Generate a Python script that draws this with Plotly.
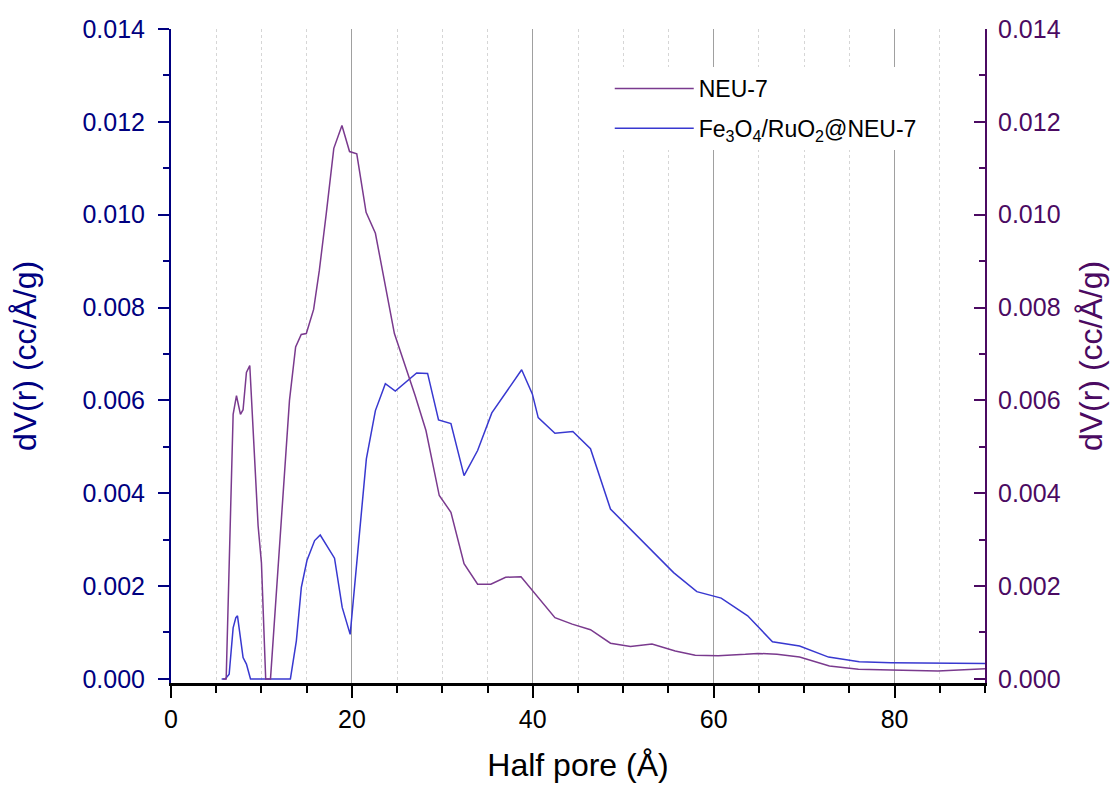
import plotly.graph_objects as go

# Half pore (Å) and dV(r) (cc/Å/g)
neu7_x = [5.75, 6.1, 6.87, 7.24, 7.68, 7.97, 8.34, 8.71, 9.63, 10.0, 10.47, 11.0,
          13.1, 13.78, 14.4, 14.96, 15.77, 16.4, 17.17, 18.0, 18.9, 19.74, 20.54,
          21.57, 22.6, 24.7, 27.0, 28.19, 29.66, 30.95, 32.4, 33.9, 35.36, 37.0,
          38.7, 39.8, 42.45, 44.36, 46.38, 48.59, 50.8, 53.18, 55.75, 57.96, 60.5,
          63.5, 64.9, 67.0, 69.5, 72.8, 76.0, 79.6, 84.8, 90.0]
neu7_y = [0.0, 0.0, 0.0057, 0.0061, 0.0057, 0.0058, 0.0066, 0.00675, 0.0033, 0.0025,
          0.0, 0.0, 0.0060, 0.00715, 0.00742, 0.00744, 0.00796, 0.0088, 0.01003,
          0.01143, 0.01192, 0.01136, 0.01131, 0.01005, 0.0096, 0.00744, 0.0061,
          0.00535, 0.00395, 0.00359, 0.00248, 0.00204, 0.00204, 0.00219, 0.0022,
          0.00194, 0.00132, 0.00118, 0.00106, 0.00077, 0.0007, 0.00075, 0.0006,
          0.00051, 0.0005, 0.00053, 0.00055, 0.00053, 0.00047, 0.00028, 0.00021,
          0.00019, 0.00017, 0.00022]

fe_x = [5.6, 6.0, 6.43, 6.87, 7.17, 7.35, 7.97, 8.34, 8.79, 13.2, 13.86, 14.41,
        15.03, 15.88, 16.5, 18.08, 18.93, 19.81, 21.6, 22.6, 23.7, 24.8, 27.16,
        28.37, 29.58, 30.95, 32.4, 33.9, 35.47, 38.77, 39.95, 40.6, 42.45, 44.43,
        46.38, 48.59, 55.57, 58.14, 60.83, 63.76, 66.5, 69.5, 72.7, 76.1, 79.6,
        84.8, 90.0]
fe_y = [0.0, 0.0, 0.0001, 0.0011, 0.00132, 0.00136, 0.00046, 0.00032, 0.0, 0.0,
        0.00082, 0.00197, 0.00255, 0.00298, 0.0031, 0.0026, 0.00154, 0.00096,
        0.00474, 0.00578, 0.00636, 0.0062, 0.00659, 0.00658, 0.00558, 0.0055,
        0.00438, 0.00492, 0.00573, 0.00666, 0.00614, 0.00563, 0.00529, 0.00533,
        0.00496, 0.00366, 0.00229, 0.00188, 0.00174, 0.00136, 0.0008, 0.00071,
        0.00047, 0.00037, 0.00035, 0.00034, 0.00033]

NAVY = "#000080"
PURPLE = "#4B0A62"
NEU_COLOR = "#7A3A8E"
FE_COLOR = "#3838D0"
FONT = "Liberation Sans, Arial, sans-serif"

fig = go.Figure()
fig.add_trace(go.Scatter(x=neu7_x, y=neu7_y, mode="lines", name="NEU-7",
                         line=dict(color=NEU_COLOR, width=1.5), yaxis="y2",
                         legendgroup="a"))
fig.add_trace(go.Scatter(x=fe_x, y=fe_y, mode="lines",
                         name="Fe<sub>3</sub>O<sub>4</sub>/RuO<sub>2</sub>@NEU-7",
                         line=dict(color=FE_COLOR, width=1.5), yaxis="y",
                         legendgroup="b"))

yrange = [-0.000088, 0.014]

fig.update_layout(
    width=1118, height=790,
    margin=dict(l=171, r=133, t=29, b=107),
    paper_bgcolor="white", plot_bgcolor="white",
    font=dict(family=FONT, color="black"),
    showlegend=True,
    legend=dict(x=0.539, y=0.942, xanchor="left", yanchor="top",
                bgcolor="white", borderwidth=0, font=dict(size=23, family=FONT),
                itemwidth=79, tracegroupgap=7, traceorder="grouped"),
    xaxis=dict(range=[0, 90], tick0=0, dtick=20, showline=True, linecolor="black",
               linewidth=3, ticks="outside", ticklen=12, tickwidth=2, tickcolor="black",
               tickfont=dict(size=25, family=FONT), ticklabelstandoff=0,
               showgrid=True, gridcolor="#a0a0a0", gridwidth=1, zeroline=False,
               minor=dict(dtick=5, tick0=0, ticks="outside", ticklen=7, tickwidth=2,
                          tickcolor="black", showgrid=True, gridcolor="#d6d6d6",
                          griddash="3px,3px", gridwidth=1),
               title=dict(text="Half pore (Å)", font=dict(size=32, family=FONT),
                          standoff=22)),
    yaxis=dict(range=yrange, tick0=0, dtick=0.002, tickformat=".3f", showgrid=False,
               zeroline=False, showline=True, linecolor=NAVY, linewidth=2,
               ticks="outside", ticklen=11, tickwidth=2, tickcolor=NAVY,
               tickfont=dict(size=25, color=NAVY, family=FONT), ticklabelstandoff=8,
               minor=dict(dtick=0.001, tick0=0, ticks="outside", ticklen=6,
                          tickwidth=2, tickcolor=NAVY),
               title=dict(text="dV(r) (cc/Å/g)", font=dict(size=32, color=NAVY, family=FONT),
                          standoff=36)),
    yaxis2=dict(range=yrange, tick0=0, dtick=0.002, tickformat=".3f", showgrid=False,
                zeroline=False, overlaying="y", side="right", showline=True,
                linecolor=PURPLE, linewidth=2, ticks="inside", ticklen=11, tickwidth=2,
                tickcolor=PURPLE, tickfont=dict(size=25, color=PURPLE, family=FONT),
                ticklabelstandoff=6,
                minor=dict(dtick=0.001, tick0=0, ticks="inside", ticklen=6,
                           tickwidth=2, tickcolor=PURPLE),
                title=dict(text="dV(r) (cc/Å/g)", font=dict(size=32, color=PURPLE, family=FONT),
                           standoff=20)),
)

fig.write_html("out.html")
